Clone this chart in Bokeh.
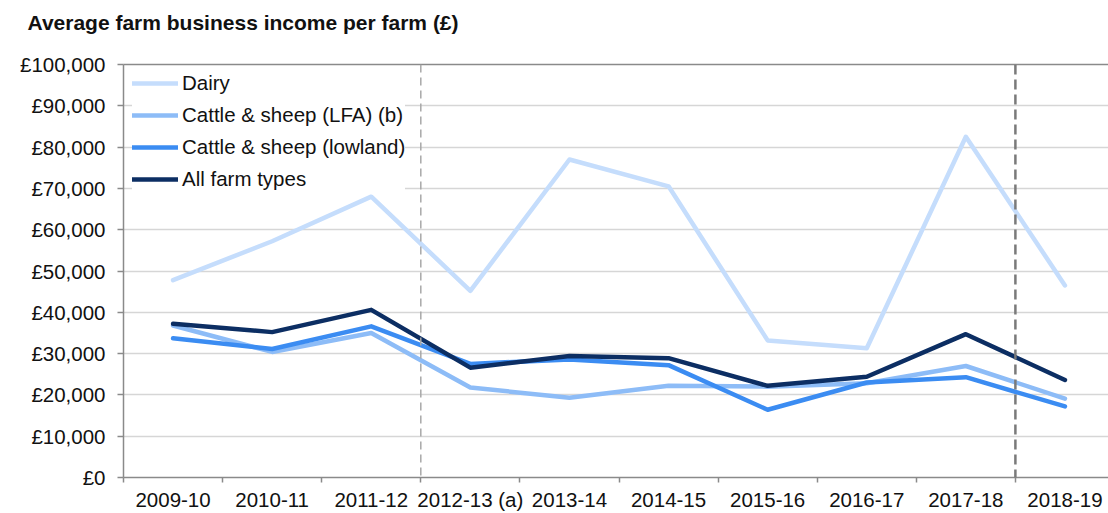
from bokeh.plotting import figure
from bokeh.models import (Range1d, FixedTicker, LinearAxis, Span, Legend, LegendItem)
from bokeh.embed import file_html
from bokeh.resources import INLINE

years = ["2009-10", "2010-11", "2011-12", "2012-13 (a)", "2013-14", "2014-15",
         "2015-16", "2016-17", "2017-18", "2018-19"]
dairy = [47800, 57200, 68000, 45200, 77000, 70500, 33200, 31300, 82500, 46500]
lfa = [36800, 30400, 35000, 21800, 19300, 22200, 22000, 22800, 27000, 19100]
lowland = [33700, 31100, 36600, 27500, 28600, 27200, 16400, 23000, 24300, 17200]
all_types = [37200, 35200, 40600, 26600, 29400, 28900, 22200, 24400, 34700, 23600]
y_ticks = [0, 10000, 20000, 30000, 40000, 50000, 60000, 70000, 80000, 90000, 100000]
y_tick_labels = ["£0", "£10,000", "£20,000", "£30,000", "£40,000", "£50,000",
                 "£60,000", "£70,000", "£80,000", "£90,000", "£100,000"]
series_names = ["Dairy", "Cattle & sheep (LFA) (b)", "Cattle & sheep (lowland)", "All farm types"]
break_before = ["2012-13 (a)", "2018-19"]
chart_title = "Average farm business income per farm (£)"

FONT = "Liberation Sans"
TXT = "#111111"
AX = "#8a8a8a"
FS = "20.5px"

W, H = 1108, 513
LEFT, TOP, BOTTOM = 123, 64, 33
cell = 99.1
frame_w = W - LEFT
frame_h = H - TOP - BOTTOM

xs = [i + 0.5 for i in range(len(years))]

p = figure(width=W, height=H, output_backend="svg", toolbar_location=None,
           x_range=Range1d(0, frame_w / cell), y_range=Range1d(0, 100000),
           min_border_left=LEFT, min_border_right=0, min_border_top=TOP,
           min_border_bottom=BOTTOM)
p.outline_line_color = None
p.background_fill_color = "white"

# title: a second, empty line keeps it high above the frame
p.title.text = chart_title + "\n "
p.title.align = "left"
p.title.vertical_align = "top"
p.title.offset = 27 - LEFT
p.title.standoff = 12
p.title.text_font = FONT
p.title.text_font_size = "21px"
p.title.text_font_style = "bold"
p.title.text_color = TXT

# grid
p.xgrid.visible = False
p.ygrid.ticker = FixedTicker(ticks=y_ticks)
p.ygrid.grid_line_color = "#d6d6d6"
p.ygrid.grid_line_width = 1.5

# x axis
xa = p.xaxis[0]
xa.ticker = FixedTicker(ticks=xs, minor_ticks=list(range(len(years) + 1)))
xa.major_label_overrides = {x: y for x, y in zip(xs, years)}
xa.major_tick_line_color = None
xa.major_tick_out = 5
xa.major_tick_in = 0
xa.minor_tick_out = 5
xa.minor_tick_in = 0
xa.minor_tick_line_color = AX
xa.minor_tick_line_width = 1.5
xa.axis_line_color = AX
xa.axis_line_width = 1.5
xa.major_label_standoff = 5
xa.major_label_text_font = FONT
xa.major_label_text_font_size = FS
xa.major_label_text_color = TXT

# y axis
ya = p.yaxis[0]
ya.ticker = FixedTicker(ticks=y_ticks)
ya.major_label_overrides = {t: l for t, l in zip(y_ticks, y_tick_labels)}
ya.major_tick_out = 6
ya.major_tick_in = 0
ya.major_tick_line_color = AX
ya.major_tick_line_width = 1.5
ya.minor_tick_line_color = None
ya.axis_line_color = AX
ya.axis_line_width = 1.5
ya.major_label_standoff = 12
ya.major_label_text_font = FONT
ya.major_label_text_font_size = FS
ya.major_label_text_color = TXT

# top border
top_axis = LinearAxis(ticker=FixedTicker(ticks=[]), axis_line_color=AX, axis_line_width=1.5,
                      major_tick_line_color=None, minor_tick_line_color=None,
                      major_tick_out=0, major_label_standoff=0)
p.add_layout(top_axis, "above")

# dashed separators
for yr, col, wid, dash in zip(break_before, ["#a8a8a8", "#7a7a7a"], [1.5, 2.5], ["8 5", "10 5"]):
    loc = years.index(yr)
    p.add_layout(Span(location=loc, dimension="height", line_color=col,
                      line_width=wid, line_dash=dash))

colors = ["#c5ddfc", "#8dbcf7", "#3b8cf2", "#0c2e63"]
renderers = []
for vals, col in zip([dairy, lfa, lowland, all_types], colors):
    r = p.line(xs, vals, line_color=col, line_width=4.5, line_join="round", line_cap="round")
    renderers.append(r)

legend = Legend(items=[LegendItem(label=n, renderers=[r]) for n, r in zip(series_names, renderers)],
                location=(9, frame_h - (2 * 4 + 4 * 28 + 3 * 4)),
                glyph_width=46, glyph_height=28, label_height=28, spacing=4,
                label_standoff=4, padding=4, margin=0,
                border_line_color=None, background_fill_color="white", background_fill_alpha=1.0,
                label_text_font=FONT, label_text_font_size=FS, label_text_color=TXT)
p.add_layout(legend, "center")

open("out.html", "w").write(file_html(p, INLINE))
